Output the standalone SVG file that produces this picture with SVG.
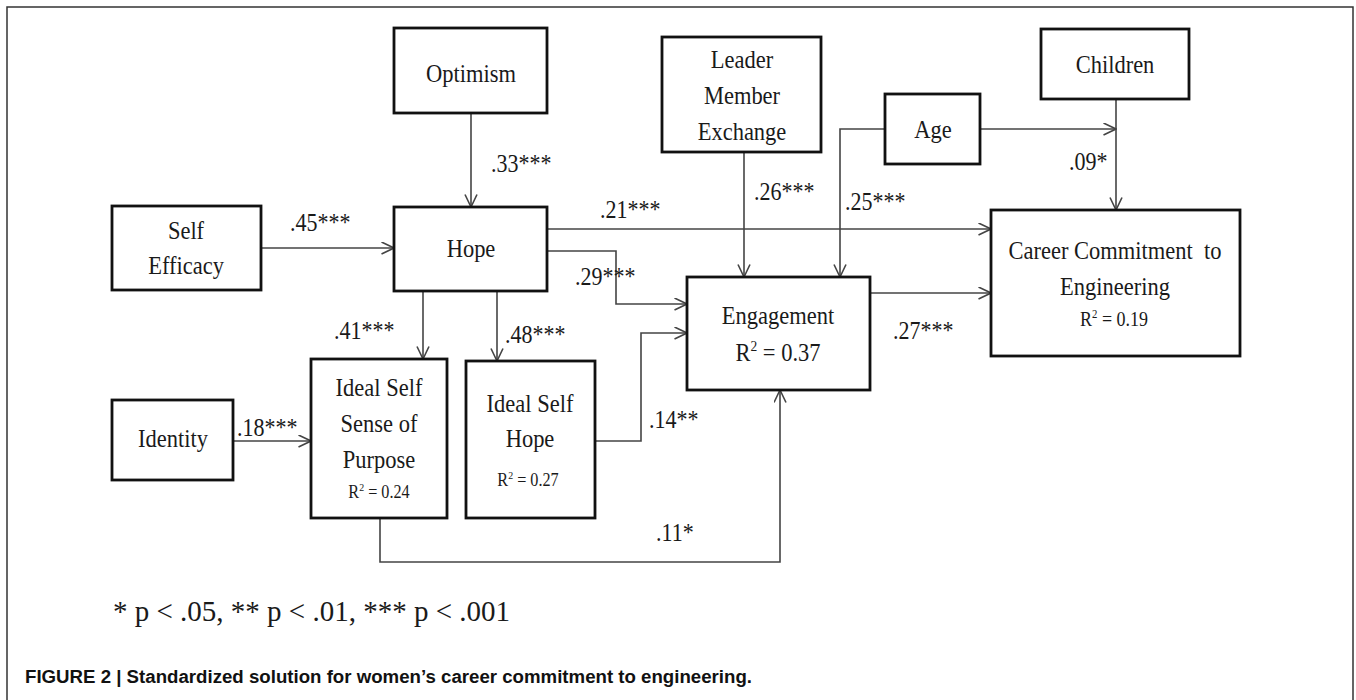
<svg xmlns="http://www.w3.org/2000/svg" width="1356" height="700" viewBox="0 0 1356 700">
<style>
.box{fill:#fff;stroke:#111;stroke-width:2.8}
.c{fill:none;stroke:#444;stroke-width:1.6}
.t{font-family:"Liberation Serif","Times New Roman",serif;font-size:25px;fill:#1a1a1a;text-anchor:middle}
.s{font-family:"Liberation Serif","Times New Roman",serif;font-size:18px;fill:#1a1a1a;text-anchor:middle}
.l{font-family:"Liberation Serif","Times New Roman",serif;font-size:25px;fill:#1a1a1a}
.fn{font-family:"Liberation Serif","Times New Roman",serif;font-size:29px;fill:#1a1a1a}
.cap{font-family:"Liberation Sans",Arial,sans-serif;font-size:18px;font-weight:bold;fill:#111}
</style>
<defs>
<marker id="ah" markerWidth="14" markerHeight="14" refX="13" refY="6.5" orient="auto" markerUnits="userSpaceOnUse">
<path d="M0.5,0.5 L13,6.5 L0.5,12.5" fill="none" stroke="#444" stroke-width="1.6"/>
</marker>
</defs>
<rect width="1356" height="700" fill="#fff"/>
<path d="M7,700 V7 H1353 V700" fill="none" stroke="#333" stroke-width="1.5"/>

<g id="connectors">
<path class="c" d="M471,113 V207" marker-end="url(#ah)"/>
<path class="c" d="M261,248 H394" marker-end="url(#ah)"/>
<path class="c" d="M547,229 H991" marker-end="url(#ah)"/>
<path class="c" d="M547,251 H616 V304 H687" marker-end="url(#ah)"/>
<path class="c" d="M423,291 V359" marker-end="url(#ah)"/>
<path class="c" d="M497,291 V361" marker-end="url(#ah)"/>
<path class="c" d="M233,441 H311" marker-end="url(#ah)"/>
<path class="c" d="M595,441 H641 V333 H687" marker-end="url(#ah)"/>
<path class="c" d="M380,518 V562 H780 V390" marker-end="url(#ah)"/>
<path class="c" d="M744,152 V277" marker-end="url(#ah)"/>
<path class="c" d="M885,129 H840 V277" marker-end="url(#ah)"/>
<path class="c" d="M980,129 H1116" marker-end="url(#ah)"/>
<path class="c" d="M1116,99 V210" marker-end="url(#ah)"/>
<path class="c" d="M870,293 H991" marker-end="url(#ah)"/>
</g>

<g id="edge-labels">
<text class="l" transform="translate(491 172) scale(0.88 1)">.33***</text>
<text class="l" transform="translate(290 231) scale(0.88 1)">.45***</text>
<text class="l" transform="translate(600 218) scale(0.88 1)">.21***</text>
<text class="l" transform="translate(754 200) scale(0.88 1)">.26***</text>
<text class="l" transform="translate(845 210) scale(0.88 1)">.25***</text>
<text class="l" transform="translate(575 285) scale(0.88 1)">.29***</text>
<text class="l" transform="translate(334 339) scale(0.88 1)">.41***</text>
<text class="l" transform="translate(505 343) scale(0.88 1)">.48***</text>
<text class="l" transform="translate(237 436) scale(0.88 1)">.18***</text>
<text class="l" transform="translate(649 428) scale(0.88 1)">.14**</text>
<text class="l" transform="translate(656 541) scale(0.88 1)">.11*</text>
<text class="l" transform="translate(893 339) scale(0.88 1)">.27***</text>
<text class="l" transform="translate(1069 170) scale(0.88 1)">.09*</text>
</g>

<g id="optimism">
<rect class="box" x="394" y="28" width="153" height="85"/>
<text class="t" transform="translate(471 82) scale(0.9 1)">Optimism</text>
</g>
<g id="lmx">
<rect class="box" x="662" y="37" width="159" height="115"/>
<text class="t" transform="translate(742 68) scale(0.9 1)">Leader</text>
<text class="t" transform="translate(742 104) scale(0.9 1)">Member</text>
<text class="t" transform="translate(742 140) scale(0.9 1)">Exchange</text>
</g>
<g id="children">
<rect class="box" x="1041" y="29" width="148" height="70"/>
<text class="t" transform="translate(1115 73) scale(0.9 1)">Children</text>
</g>
<g id="age">
<rect class="box" x="885" y="94" width="95" height="70"/>
<text class="t" transform="translate(933 138) scale(0.9 1)">Age</text>
</g>
<g id="self-efficacy">
<rect class="box" x="112" y="206" width="149" height="84"/>
<text class="t" transform="translate(186 239) scale(0.9 1)">Self</text>
<text class="t" transform="translate(186 274) scale(0.9 1)">Efficacy</text>
</g>
<g id="hope">
<rect class="box" x="394" y="207" width="153" height="84"/>
<text class="t" transform="translate(471 257) scale(0.9 1)">Hope</text>
</g>
<g id="identity">
<rect class="box" x="112" y="400" width="121" height="80"/>
<text class="t" transform="translate(173 447) scale(0.9 1)">Identity</text>
</g>
<g id="ideal-self-purpose">
<rect class="box" x="311" y="359" width="136" height="159"/>
<text class="t" transform="translate(379 396) scale(0.9 1)">Ideal Self</text>
<text class="t" transform="translate(379 432) scale(0.9 1)">Sense of</text>
<text class="t" transform="translate(379 468) scale(0.9 1)">Purpose</text>
<text class="s" transform="translate(379 498) scale(0.9 1)">R<tspan font-size="11" dy="-7">2</tspan><tspan dy="7"> = 0.24</tspan></text>
</g>
<g id="ideal-self-hope">
<rect class="box" x="466" y="361" width="129" height="157"/>
<text class="t" transform="translate(530 412) scale(0.9 1)">Ideal Self</text>
<text class="t" transform="translate(530 447) scale(0.9 1)">Hope</text>
<text class="s" transform="translate(528 486) scale(0.9 1)">R<tspan font-size="11" dy="-7">2</tspan><tspan dy="7"> = 0.27</tspan></text>
</g>
<g id="engagement">
<rect class="box" x="687" y="277" width="183" height="113"/>
<text class="t" transform="translate(778 324) scale(0.9 1)">Engagement</text>
<text class="t" transform="translate(778 361) scale(0.9 1)">R<tspan font-size="15" dy="-10">2</tspan><tspan dy="10"> = 0.37</tspan></text>
</g>
<g id="career">
<rect class="box" x="991" y="210" width="249" height="146"/>
<text class="t" transform="translate(1115 259) scale(0.9 1)" xml:space="preserve">Career Commitment  to</text>
<text class="t" transform="translate(1115 295) scale(0.9 1)">Engineering</text>
<text class="s" transform="translate(1114 326) scale(0.9 1)" style="font-size:20px">R<tspan font-size="12" dy="-8">2</tspan><tspan dy="8"> = 0.19</tspan></text>
</g>

<text class="fn" x="113" y="621">* p &lt; .05, ** p &lt; .01, *** p &lt; .001</text>
<text class="cap" x="25" y="683" textLength="727" lengthAdjust="spacingAndGlyphs">FIGURE 2 | Standardized solution for women’s career commitment to engineering.</text>
</svg>
